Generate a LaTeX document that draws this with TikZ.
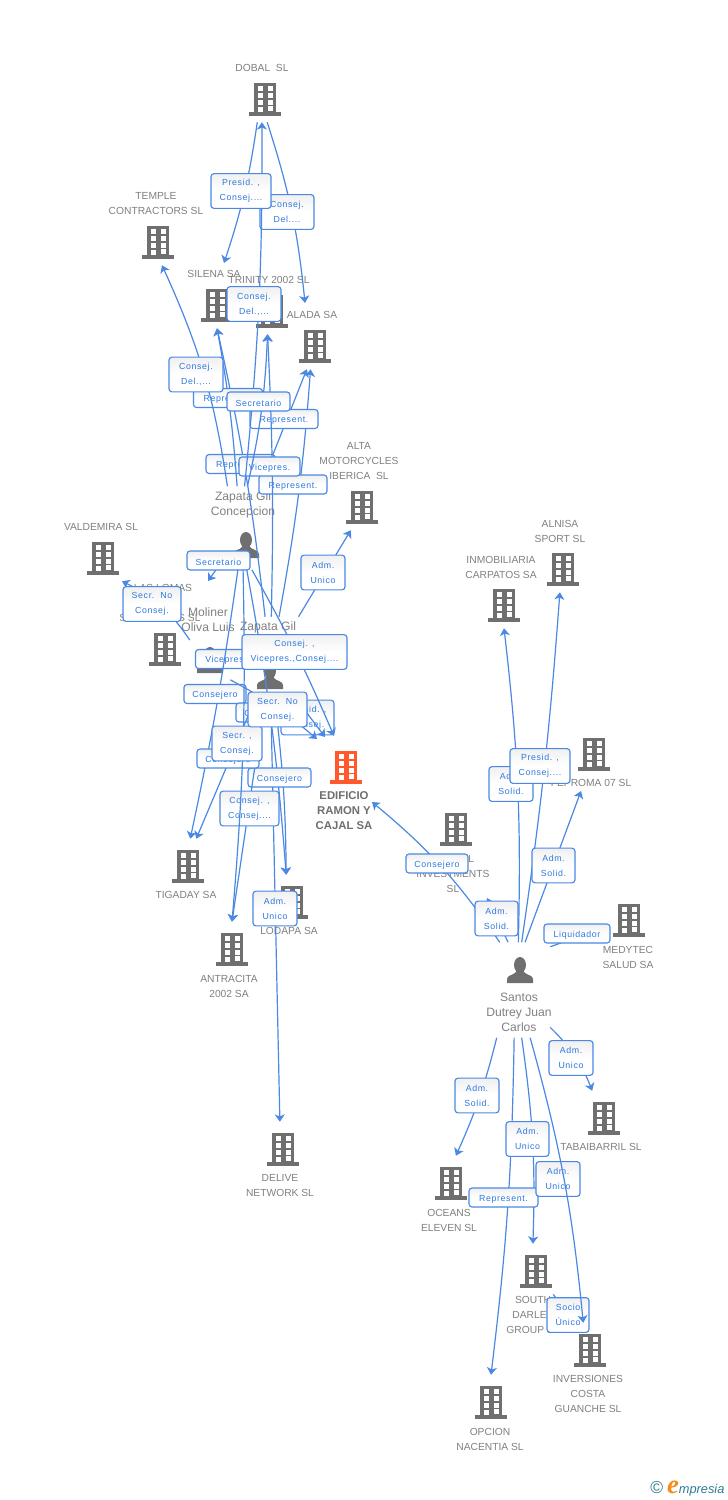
\documentclass[tikz,border=0pt]{standalone}
\usepackage{fontspec}
\setmainfont{Liberation Sans}
\newfontfamily\linkfont[LetterSpace=7]{Liberation Sans}
\newfontfamily\logofont{Liberation Serif}
\usetikzlibrary{arrows.meta}
\definecolor{linkblue}{HTML}{4A88E4}
\definecolor{lbltext}{HTML}{2E78E0}
\definecolor{icongray}{HTML}{6F6F6F}
\definecolor{txtgray}{HTML}{808080}
\definecolor{mainred}{HTML}{FF5A2C}
\definecolor{logoteal}{HTML}{2F7A94}
\definecolor{logoorange}{HTML}{F58A1F}
\tikzset{
  pics/bldg/.style={code={
    \fill[#1] (-11,16) rectangle (11,-13);
    \fill[#1] (-16,-13) rectangle (16,-16.5);
    \foreach \wy in {13,6,-1} {
      \fill[white] (-7.5,\wy) rectangle (-2.5,\wy-4.5);
      \fill[white] (2.5,\wy) rectangle (7.5,\wy-4.5);
    }
    \fill[white] (-7.5,-7.5) rectangle (-2.5,-13);
    \fill[white] (2.5,-7) rectangle (7.5,-11.5);
  }},
  pics/person/.style={code={
    \fill[icongray] (0,5) ellipse (6 and 8);
    \fill[icongray] (-4,5) rectangle (4,-4);
    \fill[icongray] (-13,-13) -- (-13,-9) .. controls (-13,-5) and (-6,-5) .. (-4,-2)
      -- (4,-2) .. controls (6,-5) and (13,-5) .. (13,-9) -- (13,-13) -- cycle;
  }},
  ent/.style={minimum width=36pt,minimum height=37.5pt,inner sep=0pt},
  who/.style={inner sep=0pt},
  txt/.style={text=txtgray,align=center,inner sep=0pt,font=\fontsize{7.7}{11.25}\selectfont},
  whotxt/.style={text=txtgray,align=center,inner sep=0pt,font=\fontsize{9.1}{11.25}\selectfont},
  link/.style={linkblue,line width=.9pt,-{Stealth[length=5.5pt,width=7.5pt,inset=1.5pt]}},
  lbl/.style={draw=linkblue,line width=.85pt,rounded corners=2.2pt,top color=black!6,bottom color=white,middle color=white,
    text=lbltext,align=center,inner sep=0pt,font=\linkfont\fontsize{6.6}{11.25}\selectfont,
    execute at begin node={\rule{0pt}{7pt}}},
  lblone/.style={lbl,minimum height=14.2pt},
  lbltwo/.style={lbl,minimum height=26pt},
}
\begin{document}
\begin{tikzpicture}[x=.75pt,y=.75pt]
\useasboundingbox (0,0) rectangle (728,-1500);
% empresas
\foreach \nm/\xx/\yy in {dobal/265/99,temple/158/242,silena/217/305,trinity/272/311,alada/315/346,
  alta/362/507,valdemira/103/558,lomas/165/649,tigaday/188/866,antracita/232/949,lodapa/292/902,
  delive/283/1149,capital/456/829,inmob/504/605,alnisa/563/569,feproma/594/754,medytec/629/920,
  tabai/604/1118,oceans/451/1183,south/536/1271,invers/590/1350,opcion/491/1402} {
  \pic at (\xx,-\yy) {bldg=icongray};
  \node[ent] (\nm) at (\xx,-\yy+2) {};
}
\pic at (346,-767) {bldg=mainred};
\node[ent] (edif) at (346,-765) {};
% personas
\pic at (246,-545) {person};
\pic at (210,-660) {person};
\pic at (270,-676) {person};
\pic at (520,-970) {person};
\node[who,minimum width=67.5pt,minimum height=62.2pt] (conc) at (246,-528) {};
\node[who,minimum width=30pt,minimum height=60pt] (mol) at (210,-640) {};
\node[who,minimum width=67.5pt,minimum height=70.5pt] (zap) at (270,-664) {};
\node[who,minimum width=45pt,minimum height=71.2pt] (san) at (520,-990) {};
% puntas libres
\coordinate (silenatop) at (224,-263);
\coordinate (aladatop) at (305,-303);
\coordinate (lomastip) at (208,-581);
\coordinate (lomasend) at (199,-660);
\coordinate (edifa) at (317,-739);
\coordinate (edifb) at (325,-737);
\coordinate (edifc) at (334,-736);
\coordinate (ediftip) at (372,-802);
\coordinate (capitaltip) at (487,-898);
\coordinate (fepromatip) at (581,-791);
% textos
\node[txt] (tdobal) at (262,-68) {DOBAL\ \ SL};
\node[txt] (ttemple) at (156,-204) {TEMPLE\\CONTRACTORS SL};
\node[txt] (tsilena) at (214,-274) {SILENA SA};
\node[txt] (ttrinity) at (269,-280) {TRINITY 2002 SL};
\node[txt] (talada) at (312,-315) {ALADA SA};
\node[txt] (talta) at (359,-461) {ALTA\\MOTORCYCLES\\IBERICA\ \ SL};
\node[txt] (tvaldemira) at (101,-527) {VALDEMIRA SL};
\node[txt] (tlomasa) at (163,-588) {LAS LOMAS};
\node[txt] (tlomasb) at (160,-618) {SOMBRERAS SL};
\node[txt] (ttigaday) at (186,-895) {TIGADAY SA};
\node[txt] (tantracita) at (229,-986) {ANTRACITA\\2002 SA};
\node[txt] (tlodapa) at (289,-931) {LODAPA SA};
\node[txt] (tdelive) at (280,-1186) {DELIVE\\NETWORK SL};
\node[txt] (tcapital) at (453,-874) {\phantom{CAPITA}L\\INVESTMENTS\\SL};
\node[txt] (tinmob) at (501,-567) {INMOBILIARIA\\CARPATOS SA};
\node[txt] (talnisa) at (560,-531) {ALNISA\\SPORT SL};
\node[txt] (tferoma) at (591,-783) {FEPROMA 07 SL};
\node[txt] (tmedytec) at (628,-957) {MEDYTEC\\SALUD SA};
\node[txt] (ttabai) at (601,-1147) {TABAIBARRIL SL};
\node[txt] (toceans) at (449,-1220) {OCEANS\\ELEVEN SL};
\node[txt] (tsouth) at (533,-1315) {SOUTH\\DARLEY\\GROUP SL};
\node[txt] (tinvers) at (588,-1394) {INVERSIONES\\COSTA\\GUANCHE SL};
\node[txt] (topcion) at (490,-1439) {OPCION\\NACENTIA SL};
\node[txt,text=icongray,font=\bfseries\fontsize{8.5}{11}\selectfont] (tedif) at (344,-810.5) {EDIFICIO\\RAMON Y\\CAJAL SA};
\node[whotxt] (tconc) at (243,-505) {Zapata Gil\\Concepcion};
\node[whotxt] (tmol) at (208,-620) {Moliner\\Oliva Luis};
\node[whotxt] (tzap) at (268,-627) {Zapata Gil};
\node[whotxt] (tsan) at (519,-1012) {Santos\\Dutrey Juan\\Carlos};
% enlaces de arriba
\draw[link] (dobal.-85) to[bend left=6] (aladatop);
\node[lbltwo,minimum width=40.5pt] (lb01) at (287,-212) {Consej.\\Del....};
\draw[link] (conc.71) to (alada.-108);
\draw[link] (zap) to[bend right=3] (alada.-100);
\node[lblone,minimum width=51pt] (lb06) at (284,-419) {Represent.};
\draw[link] (zap) to[bend right=3] (silena.-90);
\node[lblone,minimum width=51.7pt] (lb08) at (240.5,-464) {Represent.};
\node[lblone,minimum width=51pt] (lb09) at (293,-484.5) {Represent.};
\draw[link] (zap) to[bend right=2] (trinity.-100);
\node[lblone,minimum width=45.7pt] (lb10) at (269.5,-466.5) {Vicepres.};
\draw[link] (conc.92) to[bend right=3] (dobal.-97);
\node[lbltwo,minimum width=40.5pt] (lb03) at (254,-304) {Consej.\\Del.,...};
\draw[link] (dobal.-107) to[bend left=5] (silenatop);
\node[lbltwo,minimum width=45pt] (lb02) at (241,-191) {Presid. ,\\Consej....};
\draw[link] (conc.102) to[bend right=3] (silena.-90);
\node[lblone,minimum width=51.7pt] (lb04) at (228,-398) {Represent.};
\draw[link] (conc.88) to[bend right=5] (trinity.-100);
\node[lblone,minimum width=47.2pt] (lb07) at (258.5,-401.5) {Secretario};
\draw[link] (conc.114) to[bend right=8] (temple.-81);
\node[lbltwo,minimum width=40.5pt] (lb05) at (196,-374.5) {Consej.\\Del.,...};
% enlaces del centro
\draw[link] (conc) to (lomastip);
\node[lblone,minimum width=47.2pt] (lb11) at (218.5,-560.5) {Secretario};
\draw[link] (zap) to (alta.-114);
\node[lbltwo,minimum width=33pt] (lb12) at (323,-572.5) {Adm.\\Unico};
\draw[link] (mol.west) to[bend right=15] (valdemira.-53);
\node[lbltwo,minimum width=43.5pt] (lb13) at (152,-604) {Secr.\ \ No\\Consej.};
\draw[link] (zap) to (lomasend);
\node[lblone,minimum width=45.7pt] (lb14) at (226,-659) {Vicepres.};
\draw[link] (conc.-101) to[bend left=2] (tigaday.85);
\node[lblone,minimum width=46.5pt] (lb16) at (215,-694) {Consejero};
\node[lbltwo,minimum width=39.7pt] (lb18) at (307.5,-717.5) {Presid. ,\\Consej.};
\draw[link] (conc.-82) to[bend left=3] (edifc);
\draw[link] (zap) to (edifb);
\draw[link] (conc.-89) to[bend left=3] (lodapa.103);
\node[lblone,minimum width=46.5pt] (lb17) at (267,-712.5) {Consejero};
\draw[link] (mol.-63) to[bend left=6] (edifa);
\draw[link] (zap) to (delive.97);
\draw[link] (zap) to[bend left=3] (lodapa.103);
\node[lblone,minimum width=47.2pt] (lb22) at (279.5,-777.5) {Consejero};
\draw[link] (zap) to (antracita.north);
\node[lbltwo,minimum width=44.2pt] (lb23) at (249.5,-808.5) {Consej. ,\\Consej....};
\draw[link] (zap) to (tigaday.72);
\node[lblone,minimum width=46.5pt] (lb20) at (228,-758.5) {Consejero};
\draw[link] (conc.-94) to[bend left=3] (antracita.north);
\node[lbltwo,minimum width=37.5pt] (lb21) at (237,-743.5) {Secr. ,\\Consej.};
\node[lbltwo,minimum width=33pt] (lb24) at (275,-908.5) {Adm.\\Unico};
\node[lbltwo,minimum width=78.7pt] (lb15) at (294.5,-652) {Consej. ,\\Vicepres.,Consej....};
\node[lbltwo,minimum width=44.2pt] (lb19) at (277.5,-709.5) {Secr.\ \ No\\Consej.};
% enlaces de la derecha
\draw[link] (san.113) to[bend right=8] (ediftip);
\draw[link] (san.104) to (capitaltip);
\draw[link] (san.92) to[bend right=4] (inmob.south);
\draw[link] (san.88) to[bend right=2] (alnisa.-97);
\draw[link] (san.84) to (fepromatip);
\draw[link] (san.55) to (medytec);
\draw[link] (san.-51) to[bend left=12] (tabai.115);
\draw[link] (san.-116) to[bend left=5] (oceans.79);
\draw[link] (san.-97) to[bend left=3] (opcion.north);
\draw[link] (san.-88) to[bend left=5] (south.97);
\draw[link] (south) to (invers);
\node[lblone,minimum width=46.5pt] (lb25) at (437,-863.5) {Consejero};
\node[lbltwo,minimum width=32.2pt] (lb26) at (496.5,-918.5) {Adm.\\Solid.};
\node[lbltwo,minimum width=33pt] (lb27) at (511,-784) {Adm.\\Solid.};
\node[lbltwo,minimum width=45pt] (lb28) at (540,-766) {Presid. ,\\Consej....};
\node[lbltwo,minimum width=32.2pt] (lb29) at (553.5,-865.5) {Adm.\\Solid.};
\node[lblone,minimum width=49.5pt] (lb30) at (577,-933.5) {Liquidador};
\node[lbltwo,minimum width=33pt] (lb31) at (571,-1058) {Adm.\\Unico};
\node[lbltwo,minimum width=33pt] (lb32) at (477,-1095.5) {Adm.\\Solid.};
\node[lbltwo,minimum width=32.2pt] (lb33) at (527.5,-1139) {Adm.\\Unico};
\node[lblone,minimum width=51.7pt] (lb34) at (503.5,-1197.5) {Represent.};
\node[lbltwo,minimum width=33pt] (lb35) at (558,-1179) {Adm.\\Unico};
\node[lbltwo,minimum width=31.5pt] (lb36) at (568,-1315) {Socio\\Único};
\draw[link] (san.-78) to[bend left=5] (invers.105);
% logo
\node[inner sep=0pt,anchor=west] (logo) at (650,-1489) {\color{logoteal}{\fontsize{13}{13}\selectfont\char"00A9}\hspace{3pt}{\logofont\itshape\color{logoorange}\bfseries\fontsize{20}{20}\selectfont e}{\itshape\fontsize{9.6}{11}\selectfont mpresia}};
\end{tikzpicture}
\end{document}
